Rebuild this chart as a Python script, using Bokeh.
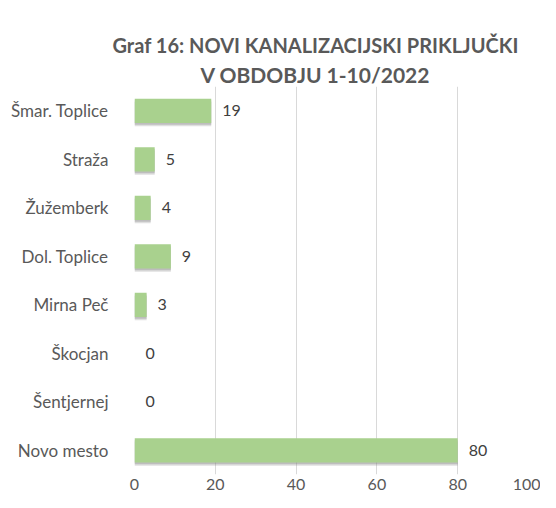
from bokeh.plotting import figure
from bokeh.models import FactorRange, Range1d, FixedTicker, Title, ColumnDataSource
from bokeh.transform import dodge
from bokeh.core.properties import value
from bokeh.embed import file_html
from bokeh.resources import INLINE

categories = ["Šmar. Toplice", "Straža", "Žužemberk", "Dol. Toplice",
              "Mirna Peč", "Škocjan", "Šentjernej", "Novo mesto"]
values = [19, 5, 4, 9, 3, 0, 0, 80]
x_ticks = [0, 20, 40, 60, 80, 100]

FONT = "Lato"
TEXT = "#595959"

src = ColumnDataSource(dict(cat=categories, val=values,
                            lab=[str(v) for v in values]))

p = figure(width=540, height=492, output_backend="svg", toolbar_location=None,
           y_range=FactorRange(*categories[::-1], range_padding=0),
           x_range=Range1d(0, 100),
           min_border_left=134, min_border_right=2, min_border_top=86,
           min_border_bottom=0)
p.outline_line_color = None
p.background_fill_color = "white"
p.border_fill_color = "white"

# titles (first added sits nearest the plot)
p.add_layout(Title(text="V OBDOBJU 1-10/2022", align="left", offset=66,
                   text_font=FONT, text_font_size="21px", text_font_style="bold",
                   text_color=TEXT, standoff=0), "above")
p.add_layout(Title(text="Graf 16: NOVI KANALIZACIJSKI PRIKLJUČKI", align="left",
                   offset=-22, text_font=FONT, text_font_size="20px",
                   text_font_style="bold", text_color=TEXT, standoff=6), "above")

# shadow (two soft layers)
p.hbar(y=dodge("cat", -0.07, range=p.y_range), left=0, right="val", height=0.5,
       source=src, fill_color="#7f7f7f", fill_alpha=0.25, line_color=None)
p.hbar(y=dodge("cat", -0.04, range=p.y_range), left=0, right="val", height=0.5,
       source=src, fill_color="#7f7f7f", fill_alpha=0.35, line_color=None)
# bars
p.hbar(y="cat", left=0, right="val", height=0.5, source=src,
       fill_color="#a9d18e", line_color=None)

p.text(x="val", y="cat", text="lab", source=src, x_offset=11,
       text_baseline="middle", text_align="left", text_font=value(FONT),
       text_font_size="16px", text_color="#404040")

p.xaxis.ticker = FixedTicker(ticks=x_ticks)
p.xaxis.axis_line_color = None
p.xaxis.major_tick_line_color = None
p.xaxis.minor_tick_line_color = None
p.xaxis.major_tick_out = 0
p.xaxis.major_label_standoff = 4
p.xaxis.major_label_text_font = FONT
p.xaxis.major_label_text_font_size = "16px"
p.xaxis.major_label_text_color = TEXT

p.yaxis.axis_line_color = None
p.yaxis.major_tick_line_color = None
p.yaxis.minor_tick_line_color = None
p.yaxis.major_label_standoff = 20
p.yaxis.major_label_text_font = FONT
p.yaxis.major_label_text_font_size = "17px"
p.yaxis.major_label_text_color = TEXT

p.ygrid.grid_line_color = None
p.xgrid.grid_line_color = "#d9d9d9"
p.xgrid.grid_line_width = 1

open("out.html", "w").write(file_html(p, INLINE))
